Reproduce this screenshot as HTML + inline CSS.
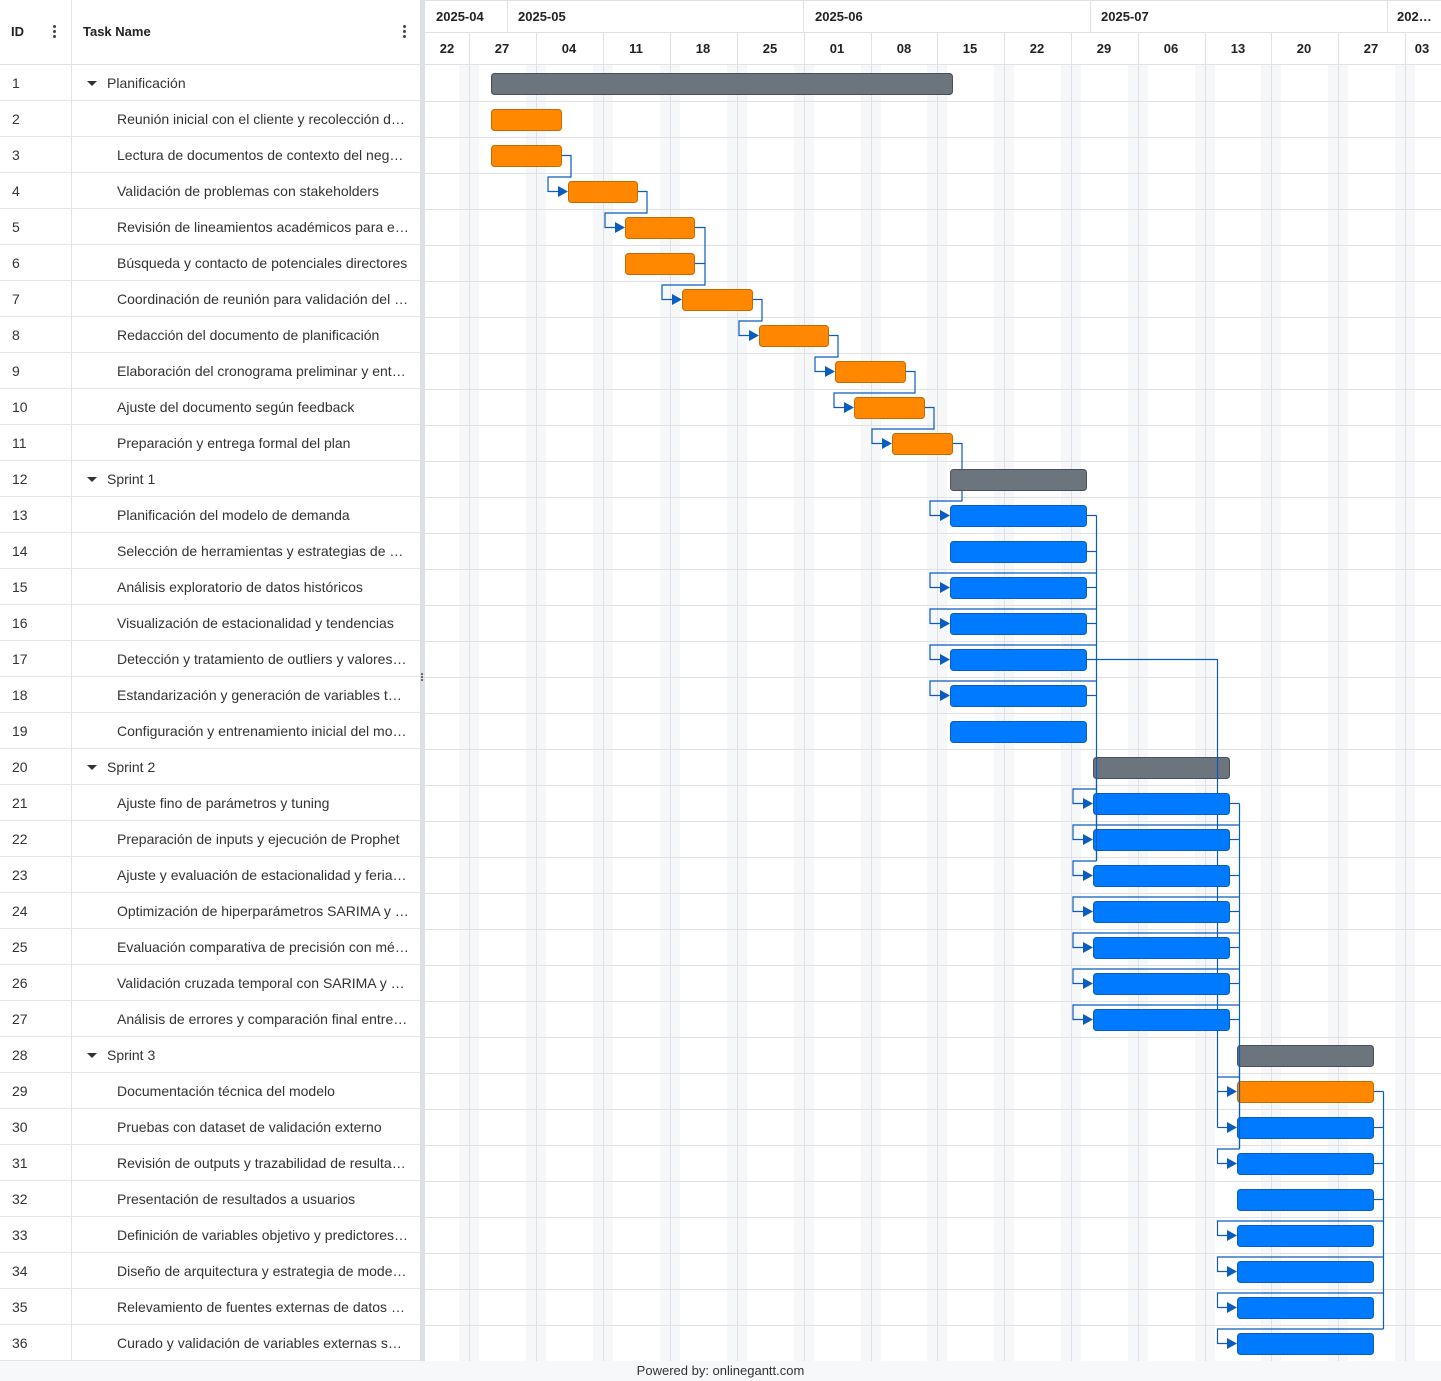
<!DOCTYPE html>
<html><head><meta charset="utf-8"><style>
*{margin:0;padding:0;box-sizing:border-box}
body{width:1441px;height:1381px;background:#fff;font-family:"Liberation Sans",Arial,sans-serif;color:#333;position:relative;overflow:hidden}
.l{position:absolute;left:0;top:0;width:420px;height:1361px}
.hd{position:absolute;top:0;height:65px;border-bottom:1px solid #dfe1e5;font-weight:bold;font-size:13px;line-height:64px;color:#222}
.row{position:absolute;left:0;width:420px;height:36px;border-bottom:1px solid #e2e4e8;font-size:14px;line-height:37px}
.row .id{position:absolute;left:12px}
.row .n{position:absolute;left:117px;white-space:nowrap}
.row .s{position:absolute;left:107px}
.row .t{position:absolute;left:87px;top:16px;width:0;height:0;border-left:5px solid transparent;border-right:5px solid transparent;border-top:5px solid #333}
.vl{position:absolute;top:0;left:71px;width:1px;height:1361px;background:#e2e4e8}
.dots{position:absolute;width:3px}
.dots i{display:block;width:3px;height:3px;border-radius:50%;background:#444;margin-bottom:2px}
</style></head><body>
<div class="l">
<div class="hd" style="left:11px">ID</div>
<div class="hd" style="left:83px">Task Name</div>
<div style="position:absolute;left:0;top:64px;width:420px;height:1px;background:#dfe1e5"></div>
<div class="dots" style="left:53px;top:25px"><i></i><i></i><i></i></div>
<div class="dots" style="left:403px;top:25px"><i></i><i></i><i></i></div>
<div class="vl"></div>
<div class="row" style="top:65px"><span class="id">1</span><span class="t"></span><span class="s">Planificación</span></div>
<div class="row" style="top:101px"><span class="id">2</span><span class="n">Reunión inicial con el cliente y recolección d…</span></div>
<div class="row" style="top:137px"><span class="id">3</span><span class="n">Lectura de documentos de contexto del neg…</span></div>
<div class="row" style="top:173px"><span class="id">4</span><span class="n">Validación de problemas con stakeholders</span></div>
<div class="row" style="top:209px"><span class="id">5</span><span class="n">Revisión de lineamientos académicos para e…</span></div>
<div class="row" style="top:245px"><span class="id">6</span><span class="n">Búsqueda y contacto de potenciales directores</span></div>
<div class="row" style="top:281px"><span class="id">7</span><span class="n">Coordinación de reunión para validación del …</span></div>
<div class="row" style="top:317px"><span class="id">8</span><span class="n">Redacción del documento de planificación</span></div>
<div class="row" style="top:353px"><span class="id">9</span><span class="n">Elaboración del cronograma preliminar y ent…</span></div>
<div class="row" style="top:389px"><span class="id">10</span><span class="n">Ajuste del documento según feedback</span></div>
<div class="row" style="top:425px"><span class="id">11</span><span class="n">Preparación y entrega formal del plan</span></div>
<div class="row" style="top:461px"><span class="id">12</span><span class="t"></span><span class="s">Sprint 1</span></div>
<div class="row" style="top:497px"><span class="id">13</span><span class="n">Planificación del modelo de demanda</span></div>
<div class="row" style="top:533px"><span class="id">14</span><span class="n">Selección de herramientas y estrategias de …</span></div>
<div class="row" style="top:569px"><span class="id">15</span><span class="n">Análisis exploratorio de datos históricos</span></div>
<div class="row" style="top:605px"><span class="id">16</span><span class="n">Visualización de estacionalidad y tendencias</span></div>
<div class="row" style="top:641px"><span class="id">17</span><span class="n">Detección y tratamiento de outliers y valores…</span></div>
<div class="row" style="top:677px"><span class="id">18</span><span class="n">Estandarización y generación de variables t…</span></div>
<div class="row" style="top:713px"><span class="id">19</span><span class="n">Configuración y entrenamiento inicial del mo…</span></div>
<div class="row" style="top:749px"><span class="id">20</span><span class="t"></span><span class="s">Sprint 2</span></div>
<div class="row" style="top:785px"><span class="id">21</span><span class="n">Ajuste fino de parámetros y tuning</span></div>
<div class="row" style="top:821px"><span class="id">22</span><span class="n">Preparación de inputs y ejecución de Prophet</span></div>
<div class="row" style="top:857px"><span class="id">23</span><span class="n">Ajuste y evaluación de estacionalidad y feria…</span></div>
<div class="row" style="top:893px"><span class="id">24</span><span class="n">Optimización de hiperparámetros SARIMA y …</span></div>
<div class="row" style="top:929px"><span class="id">25</span><span class="n">Evaluación comparativa de precisión con mé…</span></div>
<div class="row" style="top:965px"><span class="id">26</span><span class="n">Validación cruzada temporal con SARIMA y …</span></div>
<div class="row" style="top:1001px"><span class="id">27</span><span class="n">Análisis de errores y comparación final entre…</span></div>
<div class="row" style="top:1037px"><span class="id">28</span><span class="t"></span><span class="s">Sprint 3</span></div>
<div class="row" style="top:1073px"><span class="id">29</span><span class="n">Documentación técnica del modelo</span></div>
<div class="row" style="top:1109px"><span class="id">30</span><span class="n">Pruebas con dataset de validación externo</span></div>
<div class="row" style="top:1145px"><span class="id">31</span><span class="n">Revisión de outputs y trazabilidad de resulta…</span></div>
<div class="row" style="top:1181px"><span class="id">32</span><span class="n">Presentación de resultados a usuarios</span></div>
<div class="row" style="top:1217px"><span class="id">33</span><span class="n">Definición de variables objetivo y predictores…</span></div>
<div class="row" style="top:1253px"><span class="id">34</span><span class="n">Diseño de arquitectura y estrategia de mode…</span></div>
<div class="row" style="top:1289px"><span class="id">35</span><span class="n">Relevamiento de fuentes externas de datos …</span></div>
<div class="row" style="top:1325px"><span class="id">36</span><span class="n">Curado y validación de variables externas s…</span></div>
</div>
<div style="position:absolute;left:420px;top:0;width:5px;height:1361px;background:#dcdfe4"></div>
<div class="dots" style="left:421px;top:673px;width:2px"><i style="width:2px;height:2px;margin-bottom:1px"></i><i style="width:2px;height:2px;margin-bottom:1px"></i><i style="width:2px;height:2px"></i></div>
<div style="position:absolute;left:0;top:1361px;width:1441px;height:20px;background:#f7f8fa;font-size:13px;text-align:center;line-height:20px;color:#333">Powered by: onlinegantt.com</div>

<svg style="position:absolute;left:0;top:0" width="1441" height="1361" xmlns="http://www.w3.org/2000/svg" font-family="Liberation Sans, Arial, sans-serif">
<g fill="#f6f7f9">
<rect x="459" y="65" width="20" height="1296"/><rect x="526" y="65" width="20" height="1296"/><rect x="593" y="65" width="20" height="1296"/><rect x="660" y="65" width="20" height="1296"/><rect x="727" y="65" width="20" height="1296"/><rect x="794" y="65" width="20" height="1296"/><rect x="861" y="65" width="20" height="1296"/><rect x="927" y="65" width="20" height="1296"/><rect x="994" y="65" width="20" height="1296"/><rect x="1061" y="65" width="20" height="1296"/><rect x="1128" y="65" width="20" height="1296"/><rect x="1195" y="65" width="20" height="1296"/><rect x="1261" y="65" width="20" height="1296"/><rect x="1328" y="65" width="20" height="1296"/><rect x="1395" y="65" width="20" height="1296"/>
</g>
<g stroke="#dfe1e5" stroke-width="1">
<line x1="425" y1="0.5" x2="1441" y2="0.5"/>
<line x1="425" y1="32.5" x2="1441" y2="32.5"/>
<line x1="507.5" y1="0" x2="507.5" y2="32"/><line x1="803.5" y1="0" x2="803.5" y2="32"/><line x1="1090.5" y1="0" x2="1090.5" y2="32"/><line x1="1387.5" y1="0" x2="1387.5" y2="32"/>
<line x1="469.5" y1="32" x2="469.5" y2="1361"/><line x1="536.5" y1="32" x2="536.5" y2="1361"/><line x1="603.5" y1="32" x2="603.5" y2="1361"/><line x1="670.5" y1="32" x2="670.5" y2="1361"/><line x1="737.5" y1="32" x2="737.5" y2="1361"/><line x1="804.5" y1="32" x2="804.5" y2="1361"/><line x1="871.5" y1="32" x2="871.5" y2="1361"/><line x1="937.5" y1="32" x2="937.5" y2="1361"/><line x1="1004.5" y1="32" x2="1004.5" y2="1361"/><line x1="1071.5" y1="32" x2="1071.5" y2="1361"/><line x1="1138.5" y1="32" x2="1138.5" y2="1361"/><line x1="1205.5" y1="32" x2="1205.5" y2="1361"/><line x1="1271.5" y1="32" x2="1271.5" y2="1361"/><line x1="1338.5" y1="32" x2="1338.5" y2="1361"/><line x1="1405.5" y1="32" x2="1405.5" y2="1361"/>
<line x1="425" y1="64.5" x2="1441" y2="64.5"/>
<line x1="425" y1="101.5" x2="1441" y2="101.5"/><line x1="425" y1="137.5" x2="1441" y2="137.5"/><line x1="425" y1="173.5" x2="1441" y2="173.5"/><line x1="425" y1="209.5" x2="1441" y2="209.5"/><line x1="425" y1="245.5" x2="1441" y2="245.5"/><line x1="425" y1="281.5" x2="1441" y2="281.5"/><line x1="425" y1="317.5" x2="1441" y2="317.5"/><line x1="425" y1="353.5" x2="1441" y2="353.5"/><line x1="425" y1="389.5" x2="1441" y2="389.5"/><line x1="425" y1="425.5" x2="1441" y2="425.5"/><line x1="425" y1="461.5" x2="1441" y2="461.5"/><line x1="425" y1="497.5" x2="1441" y2="497.5"/><line x1="425" y1="533.5" x2="1441" y2="533.5"/><line x1="425" y1="569.5" x2="1441" y2="569.5"/><line x1="425" y1="605.5" x2="1441" y2="605.5"/><line x1="425" y1="641.5" x2="1441" y2="641.5"/><line x1="425" y1="677.5" x2="1441" y2="677.5"/><line x1="425" y1="713.5" x2="1441" y2="713.5"/><line x1="425" y1="749.5" x2="1441" y2="749.5"/><line x1="425" y1="785.5" x2="1441" y2="785.5"/><line x1="425" y1="821.5" x2="1441" y2="821.5"/><line x1="425" y1="857.5" x2="1441" y2="857.5"/><line x1="425" y1="893.5" x2="1441" y2="893.5"/><line x1="425" y1="929.5" x2="1441" y2="929.5"/><line x1="425" y1="965.5" x2="1441" y2="965.5"/><line x1="425" y1="1001.5" x2="1441" y2="1001.5"/><line x1="425" y1="1037.5" x2="1441" y2="1037.5"/><line x1="425" y1="1073.5" x2="1441" y2="1073.5"/><line x1="425" y1="1109.5" x2="1441" y2="1109.5"/><line x1="425" y1="1145.5" x2="1441" y2="1145.5"/><line x1="425" y1="1181.5" x2="1441" y2="1181.5"/><line x1="425" y1="1217.5" x2="1441" y2="1217.5"/><line x1="425" y1="1253.5" x2="1441" y2="1253.5"/><line x1="425" y1="1289.5" x2="1441" y2="1289.5"/><line x1="425" y1="1325.5" x2="1441" y2="1325.5"/>
</g>
<g font-size="13" font-weight="bold" fill="#222">
<text x="436" y="21">2025-04</text><text x="518" y="21">2025-05</text><text x="815" y="21">2025-06</text><text x="1101" y="21">2025-07</text><text x="1397" y="21">202…</text>
</g>
<g font-size="13" font-weight="bold" fill="#222" text-anchor="middle">
<text x="447" y="53">22</text><text x="502" y="53">27</text><text x="569" y="53">04</text><text x="636" y="53">11</text><text x="703" y="53">18</text><text x="770" y="53">25</text><text x="837" y="53">01</text><text x="904" y="53">08</text><text x="970" y="53">15</text><text x="1037" y="53">22</text><text x="1104" y="53">29</text><text x="1171" y="53">06</text><text x="1238" y="53">13</text><text x="1304" y="53">20</text><text x="1371" y="53">27</text><text x="1422" y="53">03</text>
</g>
<g fill="none" stroke="#0a5cc0" stroke-width="1.2">
<polyline points="562,155.5 571,155.5 571,177 548,177 548,191.5 560,191.5"/>
<polyline points="638,191.5 647,191.5 647,213 605,213 605,227.5 617,227.5"/>
<polyline points="695,227.5 705,227.5 705,285 662,285 662,299.5 674,299.5"/>
<polyline points="695,263.5 705,263.5"/>
<polyline points="753,299.5 762,299.5 762,321 739,321 739,335.5 751,335.5"/>
<polyline points="829,335.5 838,335.5 838,357 815,357 815,371.5 827,371.5"/>
<polyline points="906,371.5 915,371.5 915,393 834,393 834,407.5 846,407.5"/>
<polyline points="925,407.5 934,407.5 934,429 872,429 872,443.5 884,443.5"/>
<polyline points="953,443.5 962,443.5 962,501 930,501 930,515.5 942,515.5"/>
<line x1="1096.5" y1="515.5" x2="1096.5" y2="861"/>
<line x1="1087" y1="515.5" x2="1096.5" y2="515.5"/><line x1="1087" y1="551.5" x2="1096.5" y2="551.5"/><line x1="1087" y1="587.5" x2="1096.5" y2="587.5"/><line x1="1087" y1="623.5" x2="1096.5" y2="623.5"/><line x1="1087" y1="695.5" x2="1096.5" y2="695.5"/>
<polyline points="1087,659.5 1217.5,659.5 1217.5,1127.5"/>
<polyline points="1096.5,573 930,573 930,587.5 942,587.5"/>
<polyline points="1096.5,609 930,609 930,623.5 942,623.5"/>
<polyline points="1096.5,645 930,645 930,659.5 942,659.5"/>
<polyline points="1096.5,681 930,681 930,695.5 942,695.5"/>
<polyline points="1096.5,789 1073,789 1073,803.5 1085,803.5"/>
<polyline points="1096.5,861 1073,861 1073,875.5 1085,875.5"/>
<line x1="1239.5" y1="803.5" x2="1239.5" y2="1149"/>
<line x1="1230" y1="803.5" x2="1239.5" y2="803.5"/><line x1="1230" y1="839.5" x2="1239.5" y2="839.5"/><line x1="1230" y1="875.5" x2="1239.5" y2="875.5"/><line x1="1230" y1="911.5" x2="1239.5" y2="911.5"/><line x1="1230" y1="947.5" x2="1239.5" y2="947.5"/><line x1="1230" y1="983.5" x2="1239.5" y2="983.5"/><line x1="1230" y1="1019.5" x2="1239.5" y2="1019.5"/>
<polyline points="1239.5,825 1073,825 1073,839.5 1085,839.5"/>
<polyline points="1239.5,897 1073,897 1073,911.5 1085,911.5"/>
<polyline points="1239.5,933 1073,933 1073,947.5 1085,947.5"/>
<polyline points="1239.5,969 1073,969 1073,983.5 1085,983.5"/>
<polyline points="1239.5,1005 1073,1005 1073,1019.5 1085,1019.5"/>
<line x1="1239.5" y1="1077" x2="1217.5" y2="1077"/>
<line x1="1217.5" y1="1091.5" x2="1229" y2="1091.5"/>
<line x1="1217.5" y1="1127.5" x2="1229" y2="1127.5"/>
<polyline points="1239.5,1149 1217.5,1149 1217.5,1163.5 1229,1163.5"/>
<line x1="1383.5" y1="1091.5" x2="1383.5" y2="1329"/>
<line x1="1374" y1="1091.5" x2="1383.5" y2="1091.5"/><line x1="1374" y1="1127.5" x2="1383.5" y2="1127.5"/><line x1="1374" y1="1163.5" x2="1383.5" y2="1163.5"/><line x1="1374" y1="1199.5" x2="1383.5" y2="1199.5"/>
<polyline points="1383.5,1221 1217.5,1221 1217.5,1235.5 1229,1235.5"/>
<polyline points="1383.5,1257 1217.5,1257 1217.5,1271.5 1229,1271.5"/>
<polyline points="1383.5,1293 1217.5,1293 1217.5,1307.5 1229,1307.5"/>
<polyline points="1383.5,1329 1217.5,1329 1217.5,1343.5 1229,1343.5"/>
</g>
<g stroke-width="1">
<rect x="491.5" y="73.5" width="461" height="21" rx="3" fill="#6c757d" stroke="#4a5057"/>
<rect x="491.5" y="109.5" width="70" height="21" rx="3" fill="#ff8800" stroke="#c76a00"/>
<rect x="491.5" y="145.5" width="70" height="21" rx="3" fill="#ff8800" stroke="#c76a00"/>
<rect x="568.5" y="181.5" width="69" height="21" rx="3" fill="#ff8800" stroke="#c76a00"/>
<rect x="625.5" y="217.5" width="69" height="21" rx="3" fill="#ff8800" stroke="#c76a00"/>
<rect x="625.5" y="253.5" width="69" height="21" rx="3" fill="#ff8800" stroke="#c76a00"/>
<rect x="682.5" y="289.5" width="70" height="21" rx="3" fill="#ff8800" stroke="#c76a00"/>
<rect x="759.5" y="325.5" width="69" height="21" rx="3" fill="#ff8800" stroke="#c76a00"/>
<rect x="835.5" y="361.5" width="70" height="21" rx="3" fill="#ff8800" stroke="#c76a00"/>
<rect x="854.5" y="397.5" width="70" height="21" rx="3" fill="#ff8800" stroke="#c76a00"/>
<rect x="892.5" y="433.5" width="60" height="21" rx="3" fill="#ff8800" stroke="#c76a00"/>
<rect x="950.5" y="469.5" width="136" height="21" rx="3" fill="#6c757d" stroke="#4a5057"/>
<g fill="#007bff" stroke="#0a5cc0">
<rect x="950.5" y="505.5" width="136" height="21" rx="3"/><rect x="950.5" y="541.5" width="136" height="21" rx="3"/><rect x="950.5" y="577.5" width="136" height="21" rx="3"/><rect x="950.5" y="613.5" width="136" height="21" rx="3"/><rect x="950.5" y="649.5" width="136" height="21" rx="3"/><rect x="950.5" y="685.5" width="136" height="21" rx="3"/><rect x="950.5" y="721.5" width="136" height="21" rx="3"/>
<rect x="1093.5" y="793.5" width="136" height="21" rx="3"/><rect x="1093.5" y="829.5" width="136" height="21" rx="3"/><rect x="1093.5" y="865.5" width="136" height="21" rx="3"/><rect x="1093.5" y="901.5" width="136" height="21" rx="3"/><rect x="1093.5" y="937.5" width="136" height="21" rx="3"/><rect x="1093.5" y="973.5" width="136" height="21" rx="3"/><rect x="1093.5" y="1009.5" width="136" height="21" rx="3"/>
<rect x="1237.5" y="1117.5" width="136" height="21" rx="3"/><rect x="1237.5" y="1153.5" width="136" height="21" rx="3"/><rect x="1237.5" y="1189.5" width="136" height="21" rx="3"/><rect x="1237.5" y="1225.5" width="136" height="21" rx="3"/><rect x="1237.5" y="1261.5" width="136" height="21" rx="3"/><rect x="1237.5" y="1297.5" width="136" height="21" rx="3"/><rect x="1237.5" y="1333.5" width="136" height="21" rx="3"/>
</g>
<rect x="1093.5" y="757.5" width="136" height="21" rx="3" fill="#6c757d" stroke="#4a5057"/>
<rect x="1237.5" y="1045.5" width="136" height="21" rx="3" fill="#6c757d" stroke="#4a5057"/>
<rect x="1237.5" y="1081.5" width="136" height="21" rx="3" fill="#ff8800" stroke="#c76a00"/>
</g>
<g stroke="#0a5cc0" stroke-width="1.2">
<line x1="1096.5" y1="757" x2="1096.5" y2="861"/>
<line x1="1217.5" y1="757" x2="1217.5" y2="779"/>
<line x1="1239.5" y1="1045" x2="1239.5" y2="1149"/>
</g>
<g fill="#0a5cc0">
<polygon points="558,186 568,191.5 558,197"/>
<polygon points="615,222 625,227.5 615,233"/>
<polygon points="672,294 682,299.5 672,305"/>
<polygon points="749,330 759,335.5 749,341"/>
<polygon points="825,366 835,371.5 825,377"/>
<polygon points="844,402 854,407.5 844,413"/>
<polygon points="882,438 892,443.5 882,449"/>
<polygon points="940,510 950,515.5 940,521"/>
<polygon points="940,582 950,587.5 940,593"/>
<polygon points="940,618 950,623.5 940,629"/>
<polygon points="940,654 950,659.5 940,665"/>
<polygon points="940,690 950,695.5 940,701"/>
<polygon points="1083,798 1093,803.5 1083,809"/>
<polygon points="1083,834 1093,839.5 1083,845"/>
<polygon points="1083,870 1093,875.5 1083,881"/>
<polygon points="1083,906 1093,911.5 1083,917"/>
<polygon points="1083,942 1093,947.5 1083,953"/>
<polygon points="1083,978 1093,983.5 1083,989"/>
<polygon points="1083,1014 1093,1019.5 1083,1025"/>
<polygon points="1227,1086 1237,1091.5 1227,1097"/>
<polygon points="1227,1122 1237,1127.5 1227,1133"/>
<polygon points="1227,1158 1237,1163.5 1227,1169"/>
<polygon points="1227,1230 1237,1235.5 1227,1241"/>
<polygon points="1227,1266 1237,1271.5 1227,1277"/>
<polygon points="1227,1302 1237,1307.5 1227,1313"/>
<polygon points="1227,1338 1237,1343.5 1227,1349"/>
</g>
</svg>
</body></html>
